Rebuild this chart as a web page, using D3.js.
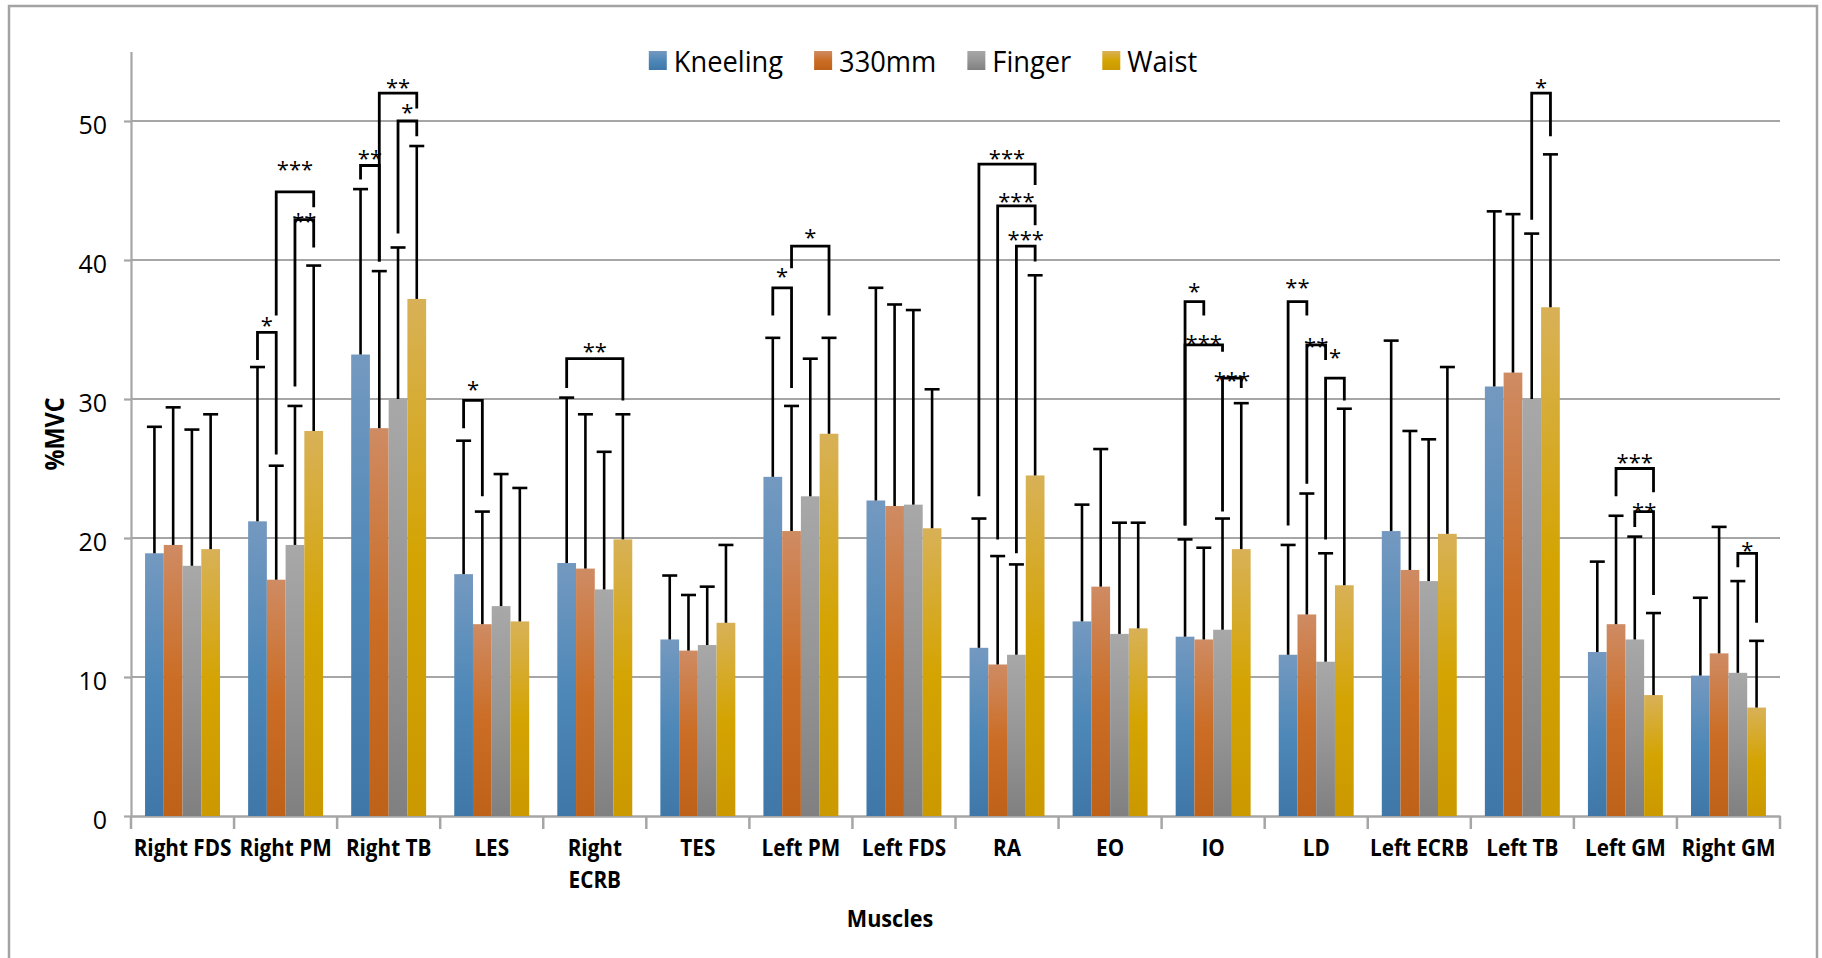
<!DOCTYPE html>
<html>
<head>
<meta charset="utf-8">
<script src="https://cdn.jsdelivr.net/npm/d3@7"></script>
<style>
  html, body { margin: 0; padding: 0; background: #fff; }
  svg { display: block; font-family: "Open Sans", sans-serif; }
</style>
</head>
<body>
<svg id="chart" width="1822" height="958"></svg>
<script>
// Muscles (x categories) and posture conditions (series)
const muscles = ["Right FDS", "Right PM", "Right TB", "LES", "Right ECRB", "TES", "Left PM", "Left FDS",
                 "RA", "EO", "IO", "LD", "Left ECRB", "Left TB", "Left GM", "Right GM"];
const postures = ["Kneeling", "330mm", "Finger", "Waist"];

// Mean %MVC per muscle
const kneeling = [18.9, 21.2, 33.2, 17.4, 18.2, 12.7, 24.4, 22.7, 12.1, 14.0, 12.9, 11.6, 20.5, 30.9, 11.8, 10.1];
const mm330    = [19.5, 17.0, 27.9, 13.8, 17.8, 11.9, 20.5, 22.3, 10.9, 16.5, 12.7, 14.5, 17.7, 31.9, 13.8, 11.7];
const finger   = [18.0, 19.5, 30.0, 15.1, 16.3, 12.3, 23.0, 22.4, 11.6, 13.1, 13.4, 11.1, 16.9, 30.0, 12.7, 10.3];
const waist    = [19.2, 27.7, 37.2, 14.0, 19.9, 13.9, 27.5, 20.7, 24.5, 13.5, 19.2, 16.6, 20.3, 36.6,  8.7,  7.8];

// Standard deviations (upper error bars)
const kneelingSD = [9.1, 11.1, 11.9, 9.6, 11.9, 4.6, 10.0, 15.3, 9.3, 8.4, 7.0, 7.9, 13.7, 12.6, 6.5, 5.6];
const mm330SD    = [9.9,  8.2, 11.3, 8.1, 11.1, 4.0,  9.0, 14.5, 7.8, 9.9, 6.6, 8.7, 10.0, 11.4, 7.8, 9.1];
const fingerSD   = [9.8, 10.0, 10.9, 9.5,  9.9, 4.2,  9.9, 14.0, 6.5, 8.0, 8.0, 7.8, 10.2, 11.9, 7.4, 6.6];
const waistSD    = [9.7, 11.9, 11.0, 9.6,  9.0, 5.6,  6.9, 10.0, 14.4, 7.6, 10.5, 12.7, 12.0, 11.0, 5.9, 4.8];

const yTicks = [0, 10, 20, 30, 40, 50];

// Pairwise significance brackets (heights in %MVC)
const brackets = [
  { muscle: "Right PM",  from: "Kneeling", to: "330mm",  top: 34.8, fromEnd: 32.8, toEnd: 26.0, label: "*",   labelAt: 35.7 },
  { muscle: "Right PM",  from: "330mm",    to: "Waist",  top: 44.9, fromEnd: 36.0, toEnd: 43.8, label: "***", labelAt: 46.9 },
  { muscle: "Right PM",  from: "Finger",   to: "Waist",  top: 42.9, fromEnd: 30.9, toEnd: 40.9, label: "**",  labelAt: 43.2 },
  { muscle: "Right TB",  from: "Kneeling", to: "330mm",  top: 46.8, fromEnd: 45.8, toEnd: 39.9, label: "**",  labelAt: 47.7 },
  { muscle: "Right TB",  from: "330mm",    to: "Waist",  top: 52.0, fromEnd: 39.9, toEnd: 50.9, label: "**",  labelAt: 52.8 },
  { muscle: "Right TB",  from: "Finger",   to: "Waist",  top: 50.0, fromEnd: 41.9, toEnd: 48.9, label: "*",   labelAt: 51.0 },
  { muscle: "LES",       from: "Kneeling", to: "330mm",  top: 29.9, fromEnd: 27.9, toEnd: 23.0, label: "*",   labelAt: 31.1 },
  { muscle: "Right ECRB",from: "Kneeling", to: "Waist",  top: 32.9, fromEnd: 30.8, toEnd: 29.9, label: "**",  labelAt: 33.8 },
  { muscle: "Left PM",   from: "Kneeling", to: "330mm",  top: 38.0, fromEnd: 36.0, toEnd: 30.8, label: "*",   labelAt: 39.2 },
  { muscle: "Left PM",   from: "330mm",    to: "Waist",  top: 41.0, fromEnd: 39.4, toEnd: 36.0, label: "*",   labelAt: 42.0 },
  { muscle: "RA",        from: "Kneeling", to: "Waist",  top: 46.9, fromEnd: 23.0, toEnd: 45.4, label: "***", labelAt: 47.7 },
  { muscle: "RA",        from: "330mm",    to: "Waist",  top: 43.9, fromEnd: 19.9, toEnd: 42.5, label: "***", labelAt: 44.6 },
  { muscle: "RA",        from: "Finger",   to: "Waist",  top: 41.0, fromEnd: 18.9, toEnd: 39.9, label: "***", labelAt: 41.9 },
  { muscle: "IO",        from: "Kneeling", to: "330mm",  top: 37.0, fromEnd: 20.9, toEnd: 36.0, label: "*",   labelAt: 38.1 },
  { muscle: "IO",        from: "Kneeling", to: "Finger", top: 33.9, fromEnd: 20.9, toEnd: 33.4, label: "***", labelAt: 34.4 },
  { muscle: "IO",        from: "Finger",   to: "Waist",  top: 31.5, fromEnd: 21.9, toEnd: 30.8, label: "***", labelAt: 31.7 },
  { muscle: "LD",        from: "Kneeling", to: "330mm",  top: 37.0, fromEnd: 20.9, toEnd: 36.0, label: "**",  labelAt: 38.4 },
  { muscle: "LD",        from: "330mm",    to: "Finger", top: 33.9, fromEnd: 23.9, toEnd: 32.8, label: "**",  labelAt: 34.2 },
  { muscle: "LD",        from: "Finger",   to: "Waist",  top: 31.5, fromEnd: 19.9, toEnd: 29.9, label: "*",   labelAt: 33.4 },
  { muscle: "Left TB",   from: "Finger",   to: "Waist",  top: 52.0, fromEnd: 42.9, toEnd: 48.9, label: "*",   labelAt: 52.8 },
  { muscle: "Left GM",   from: "330mm",    to: "Waist",  top: 25.0, fromEnd: 23.0, toEnd: 23.3, label: "***", labelAt: 25.8 },
  { muscle: "Left GM",   from: "Finger",   to: "Waist",  top: 21.9, fromEnd: 20.8, toEnd: 15.9, label: "**",  labelAt: 22.3 },
  { muscle: "Right GM",  from: "Finger",   to: "Waist",  top: 18.9, fromEnd: 17.9, toEnd: 13.9, label: "*",   labelAt: 19.5 }
];

const means = [kneeling, mm330, finger, waist];
const sds = [kneelingSD, mm330SD, fingerSD, waistSD];

// Long table: one row per bar
const rows = [];
muscles.forEach((m, i) => {
  postures.forEach((p, j) => rows.push({ muscle: m, posture: p, mean: means[j][i], sd: sds[j][i] }));
});

const gradStops = {
  "Kneeling": ["#7499c0", "#4e88b8", "#3e77a8"],
  "330mm":    ["#cf8b63", "#cb6d25", "#be6119"],
  "Finger":   ["#a8a8a8", "#969696", "#808080"],
  "Waist":    ["#d8b157", "#d4a402", "#cb9900"]
};

const SX = 0.9;               // horizontal text compression
const gridColor = "#a6a6a6";

const svg = d3.select("#chart");
const defs = svg.append("defs");
postures.forEach((p, k) => {
  const g = defs.append("linearGradient").attr("id", "grad" + k)
    .attr("x1", 0).attr("y1", 0).attr("x2", 0).attr("y2", 1);
  gradStops[p].forEach((c, s) => g.append("stop").attr("offset", s / 2).attr("stop-color", c));
});
const fillFor = p => "url(#grad" + postures.indexOf(p) + ")";

// Chart frame
svg.append("rect").attr("x", 9).attr("y", 6).attr("width", 1808).attr("height", 970)
  .attr("fill", "none").attr("stroke", "#a3a3a3").attr("stroke-width", 2.5);

const left = 131, right = 1780, bottom = 816, topY = 51.5;

const x = d3.scaleBand().domain(muscles).range([left, right]).paddingInner(0).paddingOuter(0);
const xs = d3.scaleBand().domain(postures).range([0, x.bandwidth()]).paddingInner(0).paddingOuter(0.75);
const y = d3.scaleLinear().domain([0, 55]).range([bottom, topY]);

// Horizontal gridlines
svg.append("g").selectAll("line").data(yTicks.filter(d => d > 0)).join("line")
  .attr("x1", left).attr("x2", right).attr("y1", d => y(d)).attr("y2", d => y(d))
  .attr("stroke", gridColor).attr("stroke-width", 2.2);

// Y axis
const yAxis = svg.append("g").attr("transform", `translate(${left},0)`)
  .call(d3.axisLeft(y).tickValues(yTicks).tickSize(7).tickPadding(17).tickSizeOuter(0));
yAxis.select(".domain").attr("stroke", gridColor).attr("stroke-width", 2.2);
yAxis.selectAll(".tick line").attr("stroke", gridColor).attr("stroke-width", 2.2);
yAxis.selectAll(".tick text").attr("font-family", "Open Sans").attr("font-size", 25)
  .attr("fill", "#000").attr("dy", "0.5em");

// X axis
const xAxis = svg.append("g").attr("transform", `translate(0,${bottom})`)
  .call(d3.axisBottom(x).tickSize(0).tickSizeOuter(0));
xAxis.select(".domain").attr("stroke", gridColor).attr("stroke-width", 2.5);
xAxis.selectAll(".tick text")
  .attr("font-family", "Open Sans").attr("font-weight", "bold").attr("font-size", 23)
  .attr("fill", "#000").attr("y", 40).attr("dy", null)
  .attr("transform", `scale(${SX},1)`)
  .each(function (d) {
    const t = d3.select(this);
    if (this.getComputedTextLength() * SX > x.bandwidth()) {
      const words = d.split(" ");
      t.text(null);
      words.forEach((w, k) => t.append("tspan").attr("x", 0).attr("y", 40 + k * 32).text(w));
    }
  });
// Category boundary ticks
svg.append("g").selectAll("line").data(muscles.concat([null])).join("line")
  .attr("x1", (d, i) => left + i * x.step()).attr("x2", (d, i) => left + i * x.step())
  .attr("y1", bottom).attr("y2", bottom + 13)
  .attr("stroke", gridColor).attr("stroke-width", 2.5);

// Bars
svg.append("g").selectAll("rect").data(rows).join("rect")
  .attr("x", d => x(d.muscle) + xs(d.posture))
  .attr("y", d => y(d.mean))
  .attr("width", xs.bandwidth())
  .attr("height", d => y(0) - y(d.mean))
  .attr("fill", d => fillFor(d.posture));

// Error bars (upper)
const cx = (m, p) => x(m) + xs(p) + xs.bandwidth() / 2;
const eb = svg.append("g").attr("stroke", "#000").attr("stroke-width", 2.6);
eb.selectAll("line.stem").data(rows).join("line").attr("class", "stem")
  .attr("x1", d => cx(d.muscle, d.posture)).attr("x2", d => cx(d.muscle, d.posture))
  .attr("y1", d => y(d.mean)).attr("y2", d => y(d.mean + d.sd));
eb.selectAll("line.cap").data(rows).join("line").attr("class", "cap")
  .attr("x1", d => cx(d.muscle, d.posture) - 7.5).attr("x2", d => cx(d.muscle, d.posture) + 7.5)
  .attr("y1", d => y(d.mean + d.sd)).attr("y2", d => y(d.mean + d.sd));

// Significance brackets
const bg = svg.append("g");
bg.selectAll("path").data(brackets).join("path")
  .attr("d", b => {
    const x1 = cx(b.muscle, b.from), x2 = cx(b.muscle, b.to);
    return `M${x1},${y(b.fromEnd)}V${y(b.top)}H${x2}V${y(b.toEnd)}`;
  })
  .attr("fill", "none").attr("stroke", "#000").attr("stroke-width", 2.8);
bg.selectAll("text").data(brackets).join("text")
  .attr("x", b => (cx(b.muscle, b.from) + cx(b.muscle, b.to)) / 2)
  .attr("y", b => y(b.labelAt) + 13)
  .attr("text-anchor", "middle").attr("font-size", 22).attr("fill", "#000")
  .text(b => b.label);

// Axis titles
svg.append("text").attr("transform", `translate(890,927) scale(${SX},1)`)
  .attr("text-anchor", "middle").attr("font-weight", "bold").attr("font-size", 24).text("Muscles");
svg.append("text").attr("transform", `translate(64,434) rotate(-90) scale(${SX},1)`)
  .attr("text-anchor", "middle").attr("font-weight", "bold").attr("font-size", 26).text("%MVC");

// Legend
const LSX = 0.94;
const legend = svg.append("g");
const items = legend.selectAll("g").data(postures).join("g");
items.append("rect").attr("width", 18).attr("height", 19).attr("y", 51).attr("fill", d => fillFor(d));
items.append("text").attr("font-size", 29).attr("fill", "#000").text(d => d);
let cursor = 0;
const layout = [];
items.each(function () {
  const w = d3.select(this).select("text").node().getComputedTextLength() * LSX;
  layout.push({ start: cursor, w });
  cursor += 18 + 7 + w + 31;
});
const total = cursor - 31;
const x0 = 923 - total / 2;
items.each(function (d, i) {
  const g = d3.select(this);
  g.attr("transform", `translate(${x0 + layout[i].start},0)`);
  g.select("text").attr("transform", `translate(25,72) scale(${LSX},1)`);
});
</script>
</body>
</html>
